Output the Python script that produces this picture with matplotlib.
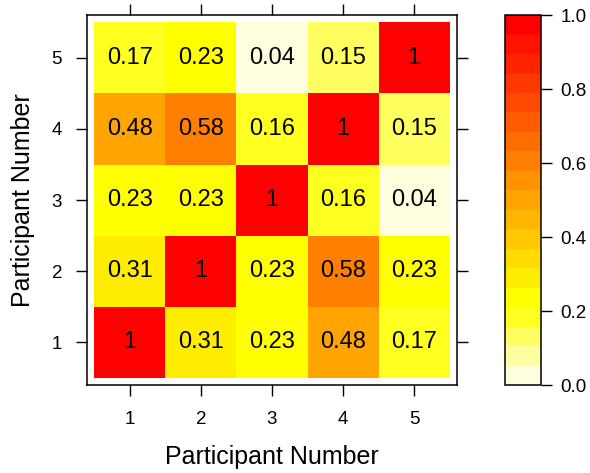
import colorsys
import numpy as np
import matplotlib
matplotlib.use('Agg')
import matplotlib.pyplot as plt
from matplotlib.colors import ListedColormap, BoundaryNorm

plt.rcParams['font.family'] = ['Liberation Sans', 'DejaVu Sans']

# --- Data ---
participants = [1, 2, 3, 4, 5]
# rows = y (participant 1..5), columns = x (participant 1..5)
row1 = [1.00, 0.31, 0.23, 0.48, 0.17]
row2 = [0.31, 1.00, 0.23, 0.58, 0.23]
row3 = [0.23, 0.23, 1.00, 0.16, 0.04]
row4 = [0.48, 0.58, 0.16, 1.00, 0.15]
row5 = [0.17, 0.23, 0.04, 0.15, 1.00]
cbar_ticks = [0.0, 0.2, 0.4, 0.6, 0.8, 1.0]


def heat_colors(n):
    # same recipe as R's heat.colors(n)
    j = n // 4
    i = n - j
    cols = []
    for k in range(i):
        h = (1 / 6) * k / (i - 1)
        cols.append(colorsys.hsv_to_rgb(h, 1, 1))
    for s in np.linspace(1 - 1 / (2 * j), 1 / (2 * j), j):
        cols.append(colorsys.hsv_to_rgb(1 / 6, s, 1))
    return cols


levels = np.linspace(0, 1, 20)
cmap = ListedColormap(heat_colors(19)[::-1])
norm = BoundaryNorm(levels, cmap.N)

mat = np.array([row1, row2, row3, row4, row5])

fig = plt.figure(figsize=(5.9, 4.73), dpi=100)
ax = fig.add_axes([0.1475, 0.186, 0.627, 0.782])
cax = fig.add_axes([0.856, 0.186, 0.061, 0.782])

edges = np.arange(0.5, len(participants) + 1, 1.0)
ax.pcolormesh(edges, edges, mat, cmap=cmap, norm=norm)
for yi, row in enumerate(mat):
    for xi, v in enumerate(row):
        ax.text(participants[xi], participants[yi], f"{v:g}",
                ha='center', va='center', fontsize=17)

ax.set_xlim(0.4, 5.6)
ax.set_ylim(0.4, 5.6)
ax.set_xticks(participants)
ax.set_yticks(participants)
ax.tick_params(direction='out', length=8, width=1, labelsize=13.5,
               top=True, right=True, pad=10)
ax.tick_params(axis='x', pad=11)
for sp in ax.spines.values():
    sp.set_linewidth(1.1)
ax.set_xlabel('Participant Number', fontsize=18, labelpad=12)
ax.set_ylabel('Participant Number', fontsize=18, labelpad=12)

cb = fig.colorbar(plt.cm.ScalarMappable(norm=norm, cmap=cmap), cax=cax,
                  ticks=cbar_ticks)
cb.ax.set_yticklabels([f"{t:.1f}" for t in cbar_ticks])
cb.ax.tick_params(direction='out', length=8, width=1, labelsize=13.5, pad=6)
cb.outline.set_linewidth(1.1)
cb.ax.minorticks_off()

fig.savefig('out.png', dpi=100)
